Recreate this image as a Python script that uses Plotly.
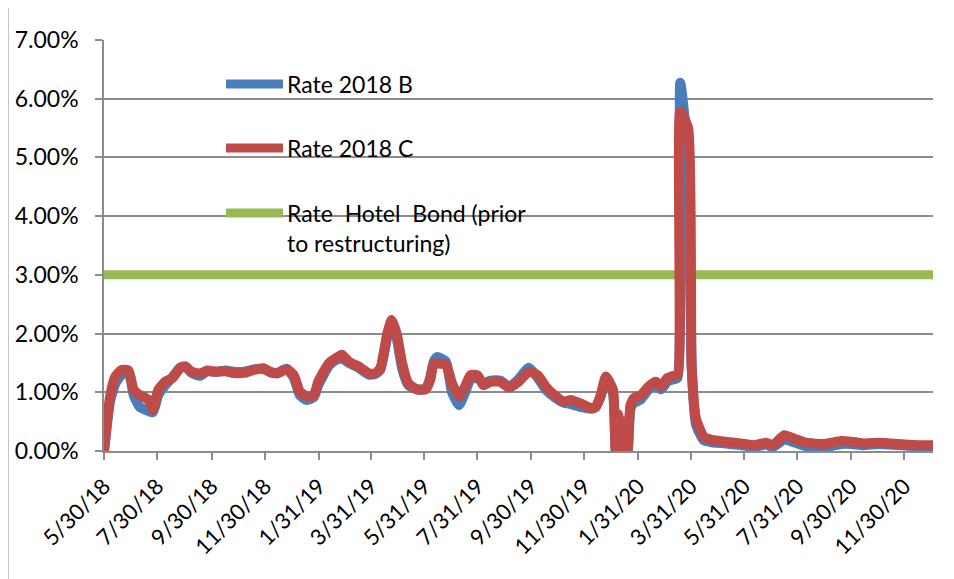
import plotly.graph_objects as go

# ---- data ----
dates = [
    "2018-05-30", "2018-06-06", "2018-06-12", "2018-06-19", "2018-06-27", "2018-07-03",
    "2018-07-10", "2018-07-20", "2018-07-25", "2018-07-31", "2018-08-08", "2018-08-16",
    "2018-08-25", "2018-08-31", "2018-09-07", "2018-09-17", "2018-09-25", "2018-10-04",
    "2018-10-16", "2018-10-25", "2018-11-06", "2018-11-17", "2018-11-28", "2018-12-06",
    "2018-12-14", "2018-12-25", "2019-01-02", "2019-01-09", "2019-01-17", "2019-01-25",
    "2019-01-30", "2019-02-11", "2019-02-19", "2019-02-26", "2019-03-06", "2019-03-17",
    "2019-03-29", "2019-04-05", "2019-04-11", "2019-04-19", "2019-04-24", "2019-04-30",
    "2019-05-06", "2019-05-13", "2019-05-23", "2019-06-02", "2019-06-07", "2019-06-11",
    "2019-06-15", "2019-06-25", "2019-07-02", "2019-07-10", "2019-07-17", "2019-07-23",
    "2019-07-31", "2019-08-07", "2019-08-15", "2019-08-26", "2019-09-05", "2019-09-16",
    "2019-09-28", "2019-10-08", "2019-10-17", "2019-10-27", "2019-11-07", "2019-11-15",
    "2019-11-26", "2019-12-08", "2019-12-13", "2019-12-19", "2019-12-25", "2020-01-02",
    "2020-01-05", "2020-01-08", "2020-01-12", "2020-01-16", "2020-01-19", "2020-01-22",
    "2020-01-26", "2020-02-03", "2020-02-12", "2020-02-20", "2020-02-26", "2020-03-04",
    "2020-03-11", "2020-03-16", "2020-03-19", "2020-03-28", "2020-04-01", "2020-04-06",
    "2020-04-15", "2020-04-24", "2020-05-08", "2020-05-27", "2020-06-12", "2020-06-25",
    "2020-07-03", "2020-07-16", "2020-07-27", "2020-08-10", "2020-08-31", "2020-09-19",
    "2020-09-30", "2020-10-14", "2020-10-31", "2020-11-23", "2020-12-16", "2021-01-02",
]

rate_2018_b = [
    0.00, 0.85, 1.15, 1.30, 1.35, 0.95,
    0.75, 0.68, 0.66, 0.95, 1.12, 1.25,
    1.42, 1.44, 1.33, 1.28, 1.36, 1.35,
    1.37, 1.35, 1.35, 1.39, 1.40, 1.34,
    1.33, 1.40, 1.25, 0.95, 0.87, 0.92,
    1.12, 1.45, 1.55, 1.58, 1.50, 1.42,
    1.30, 1.31, 1.38, 1.95, 2.20, 1.90,
    1.40, 1.12, 1.05, 1.06, 1.25, 1.52,
    1.60, 1.52, 1.00, 0.78, 1.00, 1.22,
    1.25, 1.15, 1.20, 1.20, 1.10, 1.22,
    1.42, 1.25, 1.05, 0.92, 0.82, 0.80,
    0.75, 0.72, 0.74, 0.93, 1.22, 1.00,
    0.02, 0.60, 0.02, 0.48, 0.02, 0.72,
    0.82, 0.88, 1.05, 1.12, 1.05, 1.18,
    1.22, 1.25, 6.27, 5.00, 1.45, 0.45,
    0.18, 0.15, 0.13, 0.10, 0.07, 0.11,
    0.07, 0.20, 0.15, 0.08, 0.06, 0.12,
    0.12, 0.10, 0.12, 0.10, 0.08, 0.08,
]

rate_2018_c = [
    0.00, 0.93, 1.27, 1.38, 1.37, 1.04,
    0.95, 0.87, 0.70, 1.04, 1.18, 1.24,
    1.41, 1.44, 1.35, 1.32, 1.37, 1.35,
    1.36, 1.33, 1.33, 1.38, 1.41, 1.35,
    1.32, 1.39, 1.29, 1.01, 0.93, 0.95,
    1.18, 1.49, 1.58, 1.64, 1.52, 1.44,
    1.32, 1.32, 1.41, 2.00, 2.23, 1.98,
    1.49, 1.15, 1.05, 1.05, 1.21, 1.49,
    1.49, 1.47, 1.15, 0.93, 1.10, 1.29,
    1.29, 1.12, 1.18, 1.18, 1.08, 1.18,
    1.35, 1.29, 1.10, 0.95, 0.84, 0.87,
    0.81, 0.73, 0.75, 0.95, 1.27, 1.04,
    0.03, 0.62, 0.03, 0.50, 0.03, 0.78,
    0.90, 0.95, 1.10, 1.18, 1.10, 1.24,
    1.28, 1.30, 5.78, 5.50, 1.45, 0.55,
    0.24, 0.19, 0.16, 0.13, 0.10, 0.14,
    0.10, 0.27, 0.21, 0.14, 0.12, 0.17,
    0.16, 0.13, 0.14, 0.12, 0.10, 0.10,
]

hotel_dates = ["2018-05-30", "2021-01-02"]
hotel_rate = [3.00, 3.00]

tick_dates = [
    "2018-05-30", "2018-07-30", "2018-09-30", "2018-11-30", "2019-01-31", "2019-03-31",
    "2019-05-31", "2019-07-31", "2019-09-30", "2019-11-30", "2020-01-31", "2020-03-31",
    "2020-05-31", "2020-07-31", "2020-09-30", "2020-11-30",
]
tick_labels = [
    "5/30/18", "7/30/18", "9/30/18", "11/30/18", "1/31/19", "3/31/19",
    "5/31/19", "7/31/19", "9/30/19", "11/30/19", "1/31/20", "3/31/20",
    "5/31/20", "7/31/20", "9/30/20", "11/30/20",
]
y_ticks = [0, 1, 2, 3, 4, 5, 6, 7]
y_tick_labels = ["0.00%", "1.00%", "2.00%", "3.00%", "4.00%", "5.00%", "6.00%", "7.00%"]

legend_names = ["Rate 2018 B", "Rate 2018 C", "Rate\u00a0 Hotel\u00a0 Bond (prior<br>to restructuring)"]

BLUE = "#4A7EBB"
RED = "#BE4B48"
GREEN = "#98B954"
GRID = "#8C8C8C"
FONT = "Lato, 'Noto Sans', sans-serif"

# the page body has an 8px margin; sizes below account for it
OFF = 8
W, H = 954 - OFF, 579 - OFF
L, R, T, B = 104 - OFF, 21, 40 - OFF, 128
PW, PH = W - L - R, H - T - B


def px(xpage):
    return (xpage - OFF - L) / PW


def py(ypage):
    return (H - B - (ypage - OFF)) / PH


fig = go.Figure()
fig.add_trace(go.Scatter(x=hotel_dates, y=hotel_rate, mode="lines", name=legend_names[2],
                         line=dict(color=GREEN, width=9), showlegend=False))
fig.add_trace(go.Scatter(x=dates, y=rate_2018_b, mode="lines", name=legend_names[0],
                         line=dict(color=BLUE, width=10, shape="spline", smoothing=0.5),
                         showlegend=False))
fig.add_trace(go.Scatter(x=dates, y=rate_2018_c, mode="lines", name=legend_names[1],
                         line=dict(color=RED, width=10, shape="spline", smoothing=0.5),
                         showlegend=False))

# manual legend, placed like the original
legend_rows = [(84, BLUE, legend_names[0]), (148, RED, legend_names[1]), (213, GREEN, legend_names[2])]
for ypix, col, name in legend_rows:
    fig.add_shape(type="line", xref="paper", yref="paper",
                  x0=px(226), x1=px(283), y0=py(ypix), y1=py(ypix),
                  line=dict(color=col, width=9))
    fig.add_annotation(xref="paper", yref="paper", x=px(285), y=py(ypix - 16),
                       xanchor="left", yanchor="top", text=name, showarrow=False,
                       align="left", font=dict(family=FONT, size=23, color="#000000"))

# chart-area border (left and right edges)
for xp in (8, 948):
    fig.add_shape(type="line", xref="paper", yref="paper",
                  x0=px(xp), x1=px(xp), y0=py(0), y1=py(579),
                  line=dict(color="#8C8C8C", width=1))

fig.update_layout(
    width=W, height=H, autosize=False,
    margin=dict(l=L, r=R, t=T, b=B, autoexpand=False),
    plot_bgcolor="white", paper_bgcolor="white",
    showlegend=False,
    font=dict(family=FONT, size=23, color="#000000"),
    xaxis=dict(
        type="date", range=["2018-05-30", "2021-01-02"],
        tickmode="array", tickvals=tick_dates, ticktext=tick_labels,
        tickangle=-45, ticks="outside", ticklen=7, tickcolor=GRID, tickwidth=1.5,
        showline=True, linecolor=GRID, linewidth=1.5, showgrid=False, zeroline=False,
        ticklabelstandoff=5,
        tickfont=dict(family=FONT, size=22, color="#000000"),
    ),
    yaxis=dict(
        range=[0, 7], tickmode="array", tickvals=y_ticks, ticktext=y_tick_labels,
        ticks="outside", ticklen=7, tickcolor=GRID, tickwidth=1.5,
        showline=True, linecolor=GRID, linewidth=1.5,
        showgrid=True, gridcolor=GRID, gridwidth=1.5, zeroline=False,
        ticklabelstandoff=12,
        tickfont=dict(family=FONT, size=23, color="#000000"),
    ),
)

fig.write_html("out.html")
